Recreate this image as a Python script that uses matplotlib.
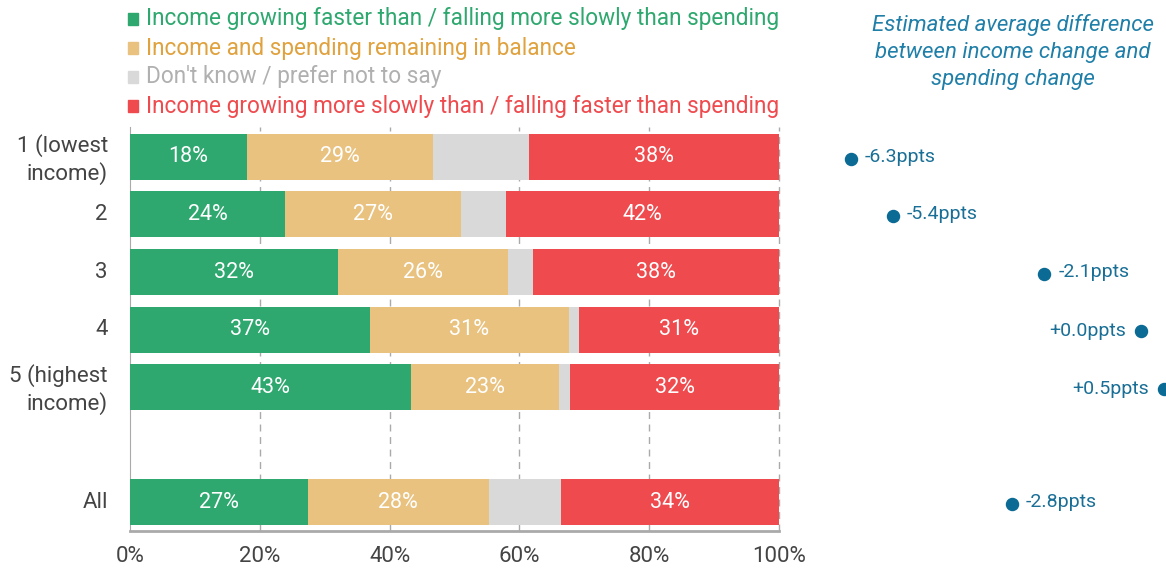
import matplotlib
matplotlib.use("Agg")
import matplotlib.pyplot as plt
from matplotlib import font_manager
import numpy as np

# ---- data ----
groups = ['1 (lowest\nincome)', '2', '3', '4', '5 (highest\nincome)', 'All']
faster = [18.0, 23.9, 32.0, 37.0, 43.3, 27.4]
balance = [28.7, 27.1, 26.2, 30.6, 22.8, 27.9]
dont_know = [14.8, 6.9, 3.9, 1.6, 1.7, 11.1]
slower = [38.5, 42.1, 37.9, 30.8, 32.2, 33.6]
diff_ppts = [-6.3, -5.4, -2.1, 0.0, 0.5, -2.8]

series_names = ['Income growing faster than / falling more slowly than spending',
                'Income and spending remaining in balance',
                "Don't know / prefer not to say",
                'Income growing more slowly than / falling faster than spending']
bar_colors = ['#2ea86f', '#e9c27f', '#d9d9d9', '#ef4b4f']
text_colors = ['#2ea86f', '#e0a23e', '#b0b0b0', '#ef4b4f']
dot_color = '#0b6b94'

installed = {f.name for f in font_manager.fontManager.ttflist}
fam = 'Liberation Sans Narrow' if 'Liberation Sans Narrow' in installed else 'Roboto'
plt.rcParams['font.family'] = [fam, 'DejaVu Sans']

W, H = 1166, 569
fig = plt.figure(figsize=(W / 100, H / 100), dpi=100)

ypos = np.array([0, 1, 2, 3, 4, 6])

# ---- stacked bars ----
ax = fig.add_axes([130 / W, 1 - 531 / H, (779 - 130) / W, (531 - 127) / H])
left = np.zeros(len(groups))
for vals, col, show in zip([faster, balance, dont_know, slower], bar_colors,
                           [True, True, False, True]):
    vals = np.array(vals)
    ax.barh(ypos, vals, left=left, height=0.8, color=col, zorder=3)
    if show:
        for y, l, v in zip(ypos, left, vals):
            ax.text(l + v / 2, y, f'{v:.0f}%', ha='center', va='center',
                    color='white', fontsize=15.5, zorder=4)
    left += vals

ax.set_xlim(0, 100)
ax.set_ylim(6.5, -0.52)
ax.set_yticks(ypos - 0.04)
ax.set_yticklabels(groups, fontsize=16, color='#444444', linespacing=1.25)
ax.set_xticks([0, 20, 40, 60, 80, 100])
ax.set_xticklabels(['0%', '20%', '40%', '60%', '80%', '100%'], fontsize=16, color='#444444')
ax.tick_params(length=0, pad=11)
ax.tick_params(axis='y', pad=16)
for x in [20, 40, 60, 80, 100]:
    ax.axvline(x, color='#aaaaaa', lw=1, ls=(0, (5, 4)), zorder=1, clip_on=False)
for s in ['top', 'right']:
    ax.spines[s].set_visible(False)
ax.spines['left'].set_color('#aaaaaa')
ax.spines['bottom'].set_color('#aaaaaa')
ax.spines['bottom'].set_linewidth(2)

# ---- legend ----
for i, (name, bc, tc) in enumerate(zip(series_names, bar_colors, text_colors)):
    y = 1 - (19 + 29 * i) / H
    fig.patches.append(plt.Rectangle((128 / W, y - 6 / H), 10 / W, 12 / H,
                                     transform=fig.transFigure, color=bc))
    fig.text(146 / W, y, name, color=tc, fontsize=16.3, va='center', ha='left')

# ---- right panel ----
ax2 = fig.add_axes([820 / W, 1 - 531 / H, (1166 - 820) / W, (531 - 127) / H])
ax2.set_xlim(-(1141 - 820) / 46, (1166 - 1141) / 46)
ax2.set_ylim(6.5, -0.52)
ax2.axis('off')
ax2.scatter(diff_ppts, ypos + 0.03, s=75, color=dot_color, zorder=3, clip_on=False)
for v, y in zip(diff_ppts, ypos):
    if v < 0:
        ax2.annotate(f'{v:.1f}ppts', (v, y), xytext=(10, 0), textcoords='offset points',
                     ha='left', va='center', color='#1a6f96', fontsize=14)
    else:
        ax2.annotate(f'+{v:.1f}ppts', (v, y + 0.03), xytext=(-11, 0), textcoords='offset points',
                     ha='right', va='center', color='#1a6f96', fontsize=14)

fig.text(1013 / W, 1 - 52 / H,
         'Estimated average difference\nbetween income change and\nspending change',
         ha='center', va='center', style='italic', color='#1f7fa8', fontsize=16,
         linespacing=1.4)

fig.savefig('out.png', dpi=100)
